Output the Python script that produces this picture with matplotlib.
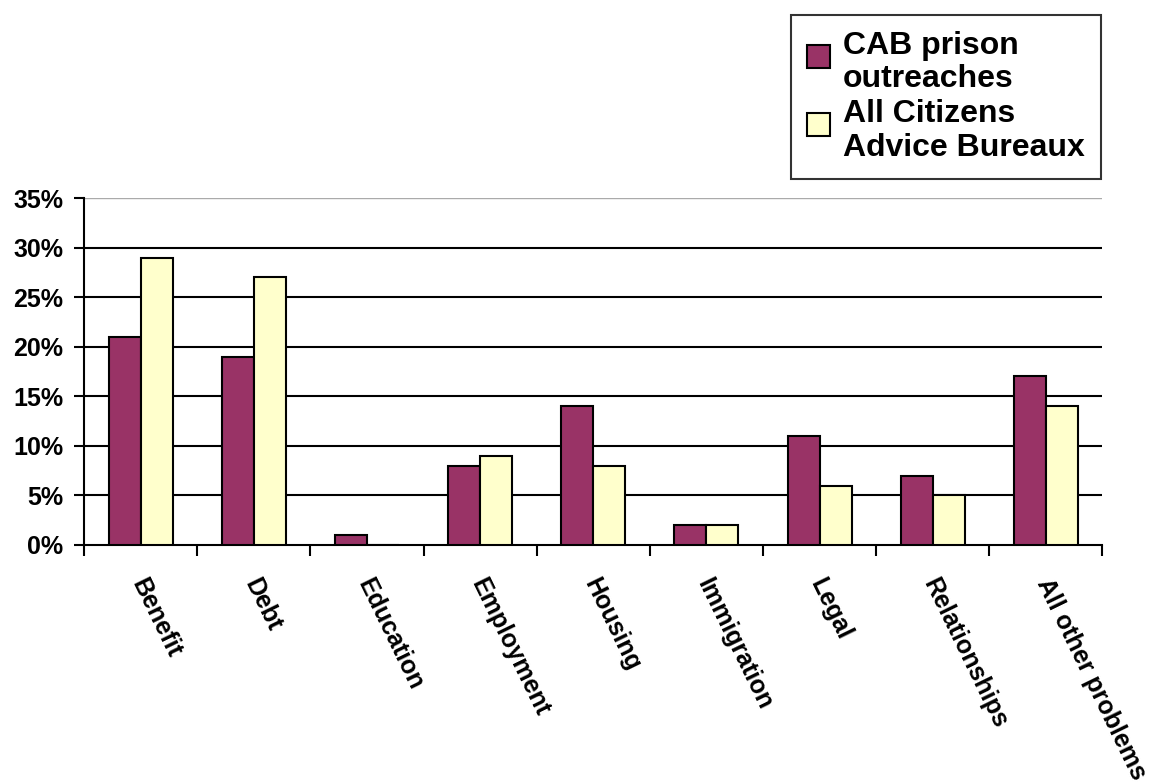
import numpy as np
import matplotlib
matplotlib.use("Agg")
import matplotlib.pyplot as plt
import matplotlib.patches as mpatches
from matplotlib.container import BarContainer
from matplotlib.legend_handler import HandlerPatch
from matplotlib.ticker import FuncFormatter

plt.rcParams['font.family'] = ['Liberation Sans', 'DejaVu Sans']
plt.rcParams['font.weight'] = 'bold'

categories = ['Benefit', 'Debt', 'Education', 'Employment', 'Housing',
              'Immigration', 'Legal', 'Relationships', 'All other problems']
prison = [21, 19, 1, 8, 14, 2, 11, 7, 17]
all_cab = [29, 27, 0, 9, 8, 2, 6, 5, 14]
series_names = ['CAB prison\noutreaches', 'All Citizens\nAdvice Bureaux']
yticks = [0, 5, 10, 15, 20, 25, 30, 35]


def top_square(legend, orig_handle, xdescent, ydescent, width, height, fontsize):
    # square next to the first line of a two-line label
    s = 0.72 * fontsize
    return mpatches.Rectangle((-xdescent, -ydescent + height - s - 0.2 * fontsize), width, s)


def copy_style(legend_handle, orig_handle):
    legend_handle.update_from(orig_handle[0])


fig = plt.figure(figsize=(11.56, 7.83), dpi=100)
ax = fig.add_axes([0.0727, 0.304, 0.881, 0.443])

x = np.arange(len(categories))
w = 0.283
ax.bar(x - w / 2, prison, w, color='#993366', edgecolor='black', linewidth=1.5,
       label=series_names[0], zorder=3)
ax.bar(x + w / 2, all_cab, w, color='#FFFFCC', edgecolor='black', linewidth=1.5,
       label=series_names[1], zorder=3)

ax.set_xlim(-0.5, len(categories) - 0.5)
ax.set_ylim(0, 35)
ax.set_yticks(yticks)
ax.yaxis.set_major_formatter(FuncFormatter(lambda v, p: f'{int(v)}%'))
ax.tick_params(axis='y', labelsize=18, width=1.5, length=7, pad=8, direction='out')

# horizontal gridlines
for v in yticks[1:-1]:
    ax.axhline(v, color='black', linewidth=1.5, zorder=1)
ax.axhline(35, color='#aaaaaa', linewidth=1, zorder=1)

# category boundary ticks, labels at centres
ax.set_xticks(np.arange(len(categories) + 1) - 0.5)
ax.set_xticklabels([])
ax.tick_params(axis='x', width=1.5, length=8, direction='out')
for i, c in enumerate(categories):
    ax.text(i - 0.03, -0.1, c, transform=ax.get_xaxis_transform(), rotation=-64,
            rotation_mode='anchor', ha='left', va='center', fontsize=18,
            fontweight='bold')

for s in ['top', 'right']:
    ax.spines[s].set_visible(False)
ax.spines['left'].set_linewidth(1.5)
ax.spines['bottom'].set_linewidth(1.5)

leg = fig.legend(loc='upper right', bbox_to_anchor=(0.952, 0.981), borderaxespad=0,
                 fontsize=23, frameon=True, fancybox=False, edgecolor='black',
                 handlelength=0.72, handleheight=2.1, handletextpad=0.4,
                 borderpad=0.5, labelspacing=0.15,
                 handler_map={BarContainer: HandlerPatch(patch_func=top_square,
                                                         update_func=copy_style)})
leg.get_frame().set_linewidth(1.5)
for t in leg.get_texts():
    t.set_linespacing(1.15)

fig.savefig('out.png', dpi=100)
